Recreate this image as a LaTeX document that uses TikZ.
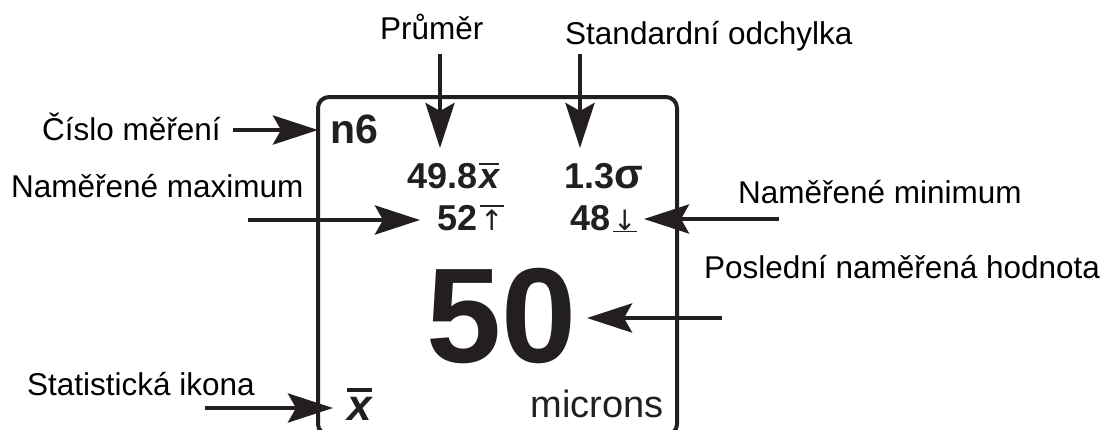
\documentclass[tikz,border=0pt]{standalone}
\usepackage{fontspec}
\setmainfont{Liberation Sans}
\newfontfamily\arrowfont{DejaVu Sans}
\usetikzlibrary{arrows.meta}
\definecolor{ink}{RGB}{35,31,32}
\newcommand{\fs}[1]{\fontsize{#1}{#1}\selectfont}
\newcommand{\topbar}[2]{\vbox{\hrule height #2\kern0.1em\hbox{#1}}}
\newcommand{\botbar}[2]{\vtop{\hbox{#1}\kern0.03em\hrule height #2}}
\begin{document}
\begin{tikzpicture}[x=1pt,y=-1pt,
  lbl/.style={anchor=base west,inner sep=0pt,font=\fs{31.5},text=black},
  disp/.style={anchor=base west,inner sep=0pt,text=ink},
  callout/.style={line width=4.5pt,draw=ink,-{Stealth[length=45pt,width=29pt,inset=8pt]}},
]
\useasboundingbox (0,0) rectangle (1111,429);
% display frame
\node[draw=ink,line width=4pt,rounded corners=11pt,minimum width=359pt,minimum height=338pt,inner sep=0pt] (frame) at (497.5,266) {};
% labels
\node[lbl] (lprumer) at (380,39) {Průměr};
\node[lbl] (lstd) at (565,44) {Standardní odchylka};
\node[lbl] (lcislo) at (42,140) {Číslo měření};
\node[lbl] (lmax) at (11,197) {Naměřené maximum};
\node[lbl] (lmin) at (738,203) {Naměřené minimum};
\node[lbl] (lposl) at (704,278) {Poslední naměřená hodnota};
\node[lbl] (lstat) at (27,395) {Statistická ikona};
% display contents
\node[disp,font=\fs{41}\bfseries] (n6) at (330,143) {n6};
\node[disp,font=\fs{36}\bfseries] (avg) at (407,188) {49.8\kern2pt\topbar{\itshape x}{2.6pt}};
\node[disp,font=\fs{36}\bfseries] (sd) at (564,188) {1.3{\fs{42}σ}};
\node[disp,font=\fs{36}\bfseries] (max) at (437,230) {52\kern3pt{\arrowfont\mdseries\fs{28}\topbar{↑}{1.5pt}}};
\node[disp,font=\fs{36}\bfseries] (min) at (570,230) {48\kern3pt{\arrowfont\mdseries\fs{28}\botbar{↓}{1.5pt}}};
\node[disp,font=\fs{135}\bfseries] (last) at (426,362) {50};
\node[disp,font=\fs{44}] (stat) at (347,420) {\topbar{\bfseries\itshape x}{4pt}};
\node[anchor=base east,inner sep=0pt,text=ink,font=\fs{38}] (unit) at (664,417) {microns};
% connector ends
\coordinate (aP0) at (440,54);  \coordinate (aP1) at (440,148);
\coordinate (aS0) at (580,54);  \coordinate (aS1) at (580,148);
\coordinate (aC0) at (233,130); \coordinate (aC1) at (318,130);
\coordinate (aX0) at (248,220); \coordinate (aX1) at (420,220);
\coordinate (aN0) at (779,219); \coordinate (aN1) at (644,219);
\coordinate (aL0) at (722,318); \coordinate (aL1) at (587,318);
\coordinate (aT0) at (205,408); \coordinate (aT1) at (333,408);
% connectors
\draw[callout] (aP0) -- (aP1);
\draw[callout] (aS0) -- (aS1);
\draw[callout] (aC0) -- (aC1);
\draw[callout] (aX0) -- (aX1);
\draw[callout] (aN0) -- (aN1);
\draw[callout] (aL0) -- (aL1);
\draw[callout] (aT0) -- (aT1);
\end{tikzpicture}
\end{document}
